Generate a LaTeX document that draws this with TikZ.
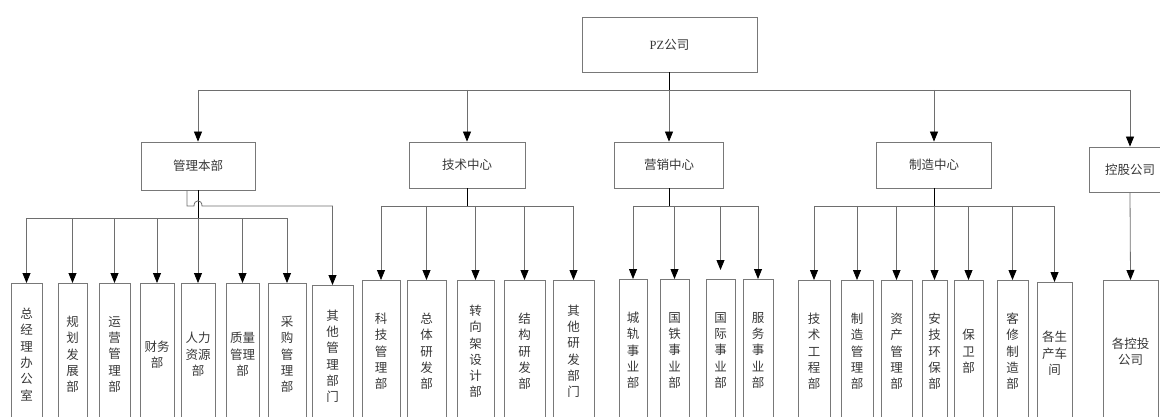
\documentclass[tikz,border=0pt]{standalone}
\usepackage{fontspec}
\setmainfont{Liberation Serif}
\newfontfamily\cjk{Noto Sans CJK SC}
\usetikzlibrary{arrows.meta}
\definecolor{lc}{RGB}{110,110,110}
\definecolor{bc}{RGB}{120,120,120}
\definecolor{tc}{RGB}{55,55,55}
\begin{document}
\begin{tikzpicture}[x=1pt,y=-1pt,
  box/.style={draw=bc, line width=0.8pt, text=tc, inner sep=0pt, font=\cjk\fontsize{12.5}{15}\selectfont},
  leaf/.style={box, anchor=north, minimum height=142pt, align=center, font=\cjk\fontsize{12.5}{16.3}\selectfont},
  ln/.style={draw=lc, line width=0.8pt},
  stem/.style={draw=black, line width=0.8pt},
  arr/.style={ln, -{Triangle[width=8pt,length=10pt,color=black]}}]
\useasboundingbox (0,0) rectangle (1160,417);
\clip (0,0) rectangle (1160,417);
% top level
\node[box, minimum width=175pt, minimum height=55pt] (pz) at (669.5,44.5) {{\rmfamily PZ}公司};
\node[box, minimum width=114pt, minimum height=48pt] (mg) at (198,166) {管理本部};
\node[box, minimum width=116pt, minimum height=46pt] (tcn) at (467,165) {技术中心};
\node[box, minimum width=109pt, minimum height=46pt] (mk) at (669,165) {营销中心};
\node[box, minimum width=115pt, minimum height=46pt] (mf) at (934,165) {制造中心};
\node[box, minimum width=82pt, minimum height=45pt] (kg) at (1130,169.5) {控股公司};
% management leaves
\node[leaf, minimum width=31pt] (a1) at (26.5,283) {总\\经\\理\\办\\公\\室};
\node[leaf, minimum width=29pt] (a2) at (72.5,283) {规\\划\\发\\展\\部};
\node[leaf, minimum width=31pt] (a3) at (114.5,283) {运\\营\\管\\理\\部};
\node[leaf, minimum width=34pt] (a4) at (157,283) {财务\\部};
\node[leaf, minimum width=34pt] (a5) at (198,283) {人力\\资源\\部};
\node[leaf, minimum width=33pt] (a6) at (242.5,283) {质量\\管理\\部};
\node[leaf, minimum width=38pt] (a7) at (287,283) {采\\购\\管\\理\\部};
\node[leaf, minimum width=41pt] (a8) at (332.5,285) {其\\他\\管\\理\\部\\门};
% technology leaves
\node[leaf, minimum width=38pt] (b1) at (381,280) {科\\技\\管\\理\\部};
\node[leaf, minimum width=39pt] (b2) at (426.5,280) {总\\体\\研\\发\\部};
\node[leaf, minimum width=37pt] (b3) at (475.5,280) {转\\向\\架\\设\\计\\部};
\node[leaf, minimum width=41pt] (b4) at (524.5,280) {结\\构\\研\\发\\部};
\node[leaf, minimum width=41pt] (b5) at (573.5,280) {其\\他\\研\\发\\部\\门};
% marketing leaves
\node[leaf, minimum width=28pt] (c1) at (633,279) {城\\轨\\事\\业\\部};
\node[leaf, minimum width=29pt] (c2) at (674.5,279) {国\\铁\\事\\业\\部};
\node[leaf, minimum width=29pt] (c3) at (720.5,279) {国\\际\\事\\业\\部};
\node[leaf, minimum width=30pt] (c4) at (758,279) {服\\务\\事\\业\\部};
% manufacturing leaves
\node[leaf, minimum width=32pt] (d1) at (814,280) {技\\术\\工\\程\\部};
\node[leaf, minimum width=32pt] (d2) at (857,280) {制\\造\\管\\理\\部};
\node[leaf, minimum width=31pt] (d3) at (896.5,280) {资\\产\\管\\理\\部};
\node[leaf, minimum width=25pt] (d4) at (934.5,280) {安\\技\\环\\保\\部};
\node[leaf, minimum width=29pt] (d5) at (968.5,280) {保\\卫\\部};
\node[leaf, minimum width=31pt] (d6) at (1012.5,280) {客\\修\\制\\造\\部};
\node[leaf, minimum width=35pt] (d7) at (1054.5,282) {各生\\产车\\间};
% holding leaf
\node[leaf, minimum width=55pt] (e1) at (1130.5,280) {各控投\\公司};
% top connectors
\draw[stem] (pz.south) -- (pz.south |- 0,90);
\draw[ln] (mg.north |- 0,90) -- (kg.north |- 0,90);
\foreach \n in {mg,tcn,mk,mf,kg} \draw[arr] (\n.north |- 0,90) -- (\n.north);
% management connectors
\draw[ln] (a1.north |- 0,218) -- (a7.north |- 0,218);
\draw[stem] (mg.south) -- (mg.south |- 0,218);
\foreach \n in {a1,a2,a3,a4,a5,a6,a7} \draw[arr] (\n.north |- 0,218) -- (\n.north);
\draw[arr] ([xshift=-11pt]mg.south) -- (187,206) -- (194,206) .. controls (194,199) and (202,199) .. (202,206) -- (a8.north |- 0,206) -- (a8.north);
% technology connectors
\draw[stem] (tcn.south) -- (tcn.south |- 0,206);
\draw[ln] (b1.north |- 0,206) -- (b5.north |- 0,206);
\foreach \n in {b1,b2,b3,b4,b5} \draw[arr] (\n.north |- 0,206) -- (\n.north);
% marketing connectors
\draw[stem] (mk.south) -- (mk.south |- 0,206);
\draw[ln] (c1.north |- 0,206) -- (c4.north |- 0,206);
\foreach \n in {c1,c2,c4} \draw[arr] (\n.north |- 0,206) -- (\n.north);
\draw[arr] (c3.north |- 0,206) -- ([yshift=9pt]c3.north);
% manufacturing connectors
\draw[stem] (mf.south) -- (mf.south |- 0,206);
\draw[ln] (d1.north |- 0,206) -- (d7.north |- 0,206);
\foreach \n in {d1,d2,d3,d4,d5,d6,d7} \draw[arr] (\n.north |- 0,206) -- (\n.north);
% holding
\draw[arr] (kg.south) -- (e1.north);
\end{tikzpicture}
\end{document}
